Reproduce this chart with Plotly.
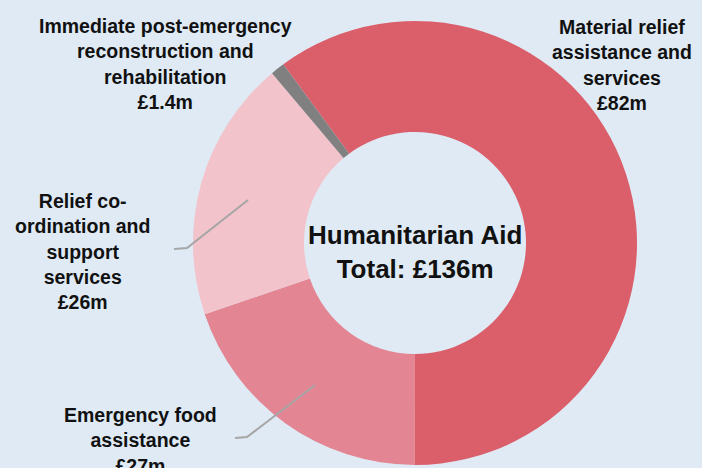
import plotly.graph_objects as go

labels = [
    "Material relief assistance and services",
    "Emergency food assistance",
    "Relief co-ordination and support services",
    "Immediate post-emergency reconstruction and rehabilitation",
]
values = [82, 27, 26, 1.4]
colors = ["#da5f6b", "#e38592", "#f2c3ca", "#808080"]

label_texts = [
    "Material relief<br>assistance and<br>services<br>£82m",
    "Emergency food<br>assistance<br>£27m",
    "Relief co-<br>ordination and<br>support<br>services<br>£26m",
    "Immediate post-emergency<br>reconstruction and<br>rehabilitation<br>£1.4m",
]
center_text = "Humanitarian Aid<br>Total: £136m"

W, H = 702, 468
BG = "#dfeaf5"
FONT = "Liberation Sans, Arial, sans-serif"

def px(x, y):
    return x / W, 1 - y / H

fig = go.Figure()
fig.add_trace(go.Pie(
    labels=labels,
    values=values,
    hole=0.5,
    sort=False,
    direction="clockwise",
    rotation=-36.4,
    marker=dict(colors=colors, line=dict(width=0)),
    textinfo="none",
    hoverinfo="label+value",
    showlegend=False,
    domain=dict(x=[193 / W, 637 / W], y=[(H - 465) / H, (H - 21) / H]),
))

# label positions (pixel centres, top of text block)
label_pos = [(622, 14), (140, 402), (82, 188), (165, 13)]
annotations = []
for t, (x, y) in zip(label_texts, label_pos):
    ax, ay = px(x, y)
    annotations.append(dict(
        text="<b>" + t + "</b>", x=ax, y=ay, xref="paper", yref="paper",
        xanchor="center", yanchor="top", showarrow=False, align="center",
        font=dict(family=FONT, size=19.5, color="#111111"),
    ))
cx, cy = px(415, 252)
annotations.append(dict(
    text="<b>" + center_text + "</b>", x=cx, y=cy, xref="paper", yref="paper",
    xanchor="center", yanchor="middle", showarrow=False, align="center",
    font=dict(family=FONT, size=26, color="#111111"),
))

leaders = [
    [(174, 249), (187, 248), (248, 200)],
    [(235, 438), (247, 437), (315, 385)],
]
shapes = []
for pts in leaders:
    path = ""
    for i, (x, y) in enumerate(pts):
        X, Y = px(x, y)
        path += ("M" if i == 0 else " L") + f" {X:.5f} {Y:.5f}"
    shapes.append(dict(type="path", path=path, xref="paper", yref="paper",
                       line=dict(color="#a6a6a6", width=2)))

fig.update_layout(
    width=W, height=H,
    margin=dict(l=0, r=0, t=0, b=0),
    paper_bgcolor=BG, plot_bgcolor=BG,
    annotations=annotations,
    shapes=shapes,
    font=dict(family=FONT),
)
fig.write_html(
    "out.html",
    config={"displayModeBar": False},
    post_script="document.body.style.margin='0px';document.body.style.overflow='hidden';",
)
